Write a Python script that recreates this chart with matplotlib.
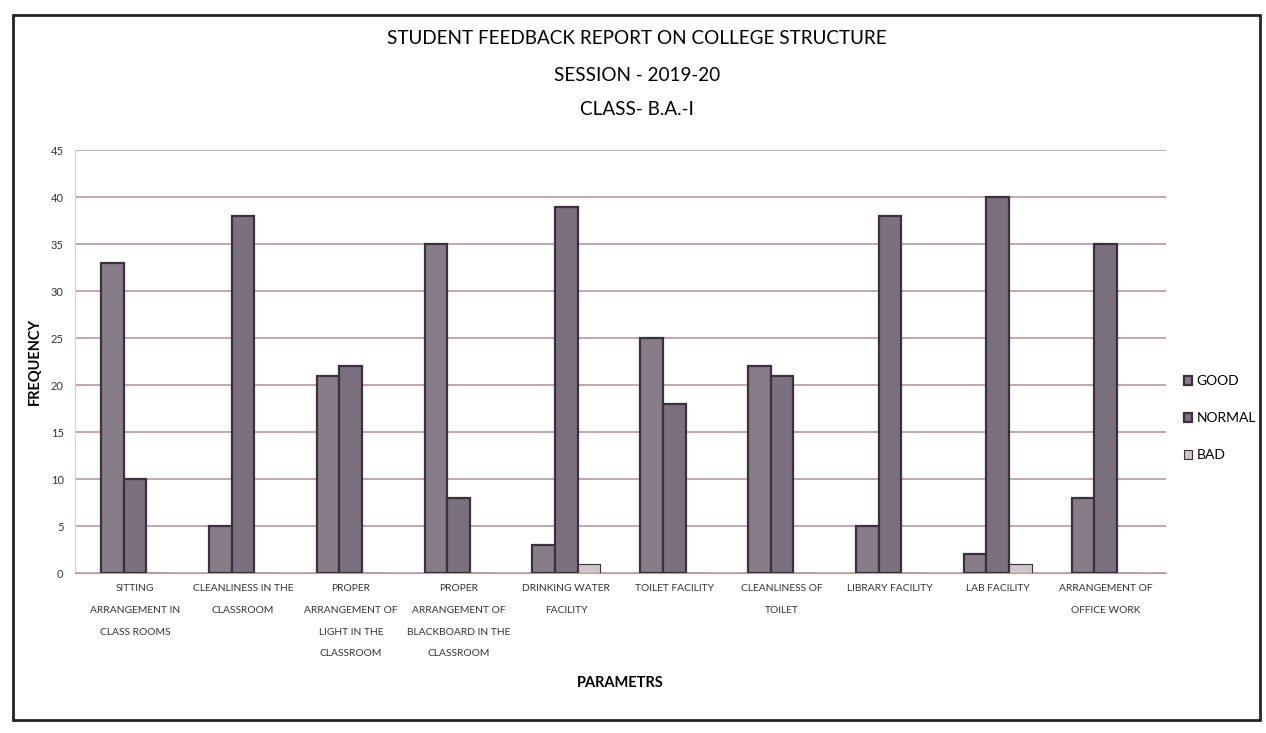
import numpy as np
import matplotlib
matplotlib.use('agg')
import matplotlib.pyplot as plt
from matplotlib.patches import Rectangle

plt.rcParams['font.family'] = ['Lato', 'DejaVu Sans']

categories = [
    'SITTING\nARRANGEMENT IN\nCLASS ROOMS',
    'CLEANLINESS IN THE\nCLASSROOM',
    'PROPER\nARRANGEMENT OF\nLIGHT IN THE\nCLASSROOM',
    'PROPER\nARRANGEMENT OF\nBLACKBOARD IN THE\nCLASSROOM',
    'DRINKING WATER\nFACILITY',
    'TOILET FACILITY',
    'CLEANLINESS OF\nTOILET',
    'LIBRARY FACILITY',
    'LAB FACILITY',
    'ARRANGEMENT OF\nOFFICE WORK',
]
good = [33, 5, 21, 35, 3, 25, 22, 5, 2, 8]
normal = [10, 38, 22, 8, 39, 18, 21, 38, 40, 35]
bad = [0, 0, 0, 0, 1, 0, 0, 0, 1, 0]
series = ['GOOD', 'NORMAL', 'BAD']
colors = ['#877d88', '#7b707d', '#cfc5cb']

fig = plt.figure(figsize=(12.66, 7.33), dpi=100)
ax = fig.add_axes([0.059, 0.218, 0.862, 0.577])

x = np.arange(len(categories))
w = 0.21
for i, (vals, name, c) in enumerate(zip([good, normal, bad], series, colors)):
    ax.bar(x + (i - 1) * w, vals, w, color=c, edgecolor='#3b303b',
           linewidth=1.6 if i < 2 else 0.8, label=name, zorder=3)

ax.set_xlim(-0.56, len(categories) - 0.44)
ax.set_ylim(0, 45)
ax.set_yticks(range(0, 46, 5))
ax.yaxis.grid(True, color='#b89a9f', linewidth=1.2)
ax.set_axisbelow(True)
for s in ['top', 'right']:
    ax.spines[s].set_visible(False)
ax.spines['bottom'].set_color('#b89a9f')
ax.spines['left'].set_color('#d8cfd3')
ax.tick_params(axis='y', length=0, labelsize=8, colors='#333333', pad=8)
ax.tick_params(axis='x', length=0, pad=8)
ax.set_xticks(x)
ax.set_xticklabels(categories, fontsize=7.4, color='#333333', linespacing=2.8)

ax.set_ylabel('FREQUENCY', fontsize=10.5, fontweight='bold', labelpad=6)
ax.set_xlabel('PARAMETRS', fontsize=10.5, fontweight='bold', labelpad=13)

fig.text(0.503, 0.948, 'STUDENT FEEDBACK REPORT ON COLLEGE STRUCTURE',
         ha='center', va='center', fontsize=13.6)
fig.text(0.503, 0.897, 'SESSION - 2019-20', ha='center', va='center', fontsize=13.6)
fig.text(0.503, 0.850, 'CLASS- B.A.-I', ha='center', va='center', fontsize=13.6)

ax.legend(loc='center left', bbox_to_anchor=(1.005, 0.366), frameon=False,
          fontsize=10, handlelength=0.6, handleheight=0.6, labelspacing=1.8,
          handletextpad=0.3)

fig.patches.append(Rectangle((0.01, 0.018), 0.985, 0.962, transform=fig.transFigure,
                             fill=False, edgecolor='#222222', linewidth=2))

fig.savefig('out.png', dpi=100)
plt.close()
